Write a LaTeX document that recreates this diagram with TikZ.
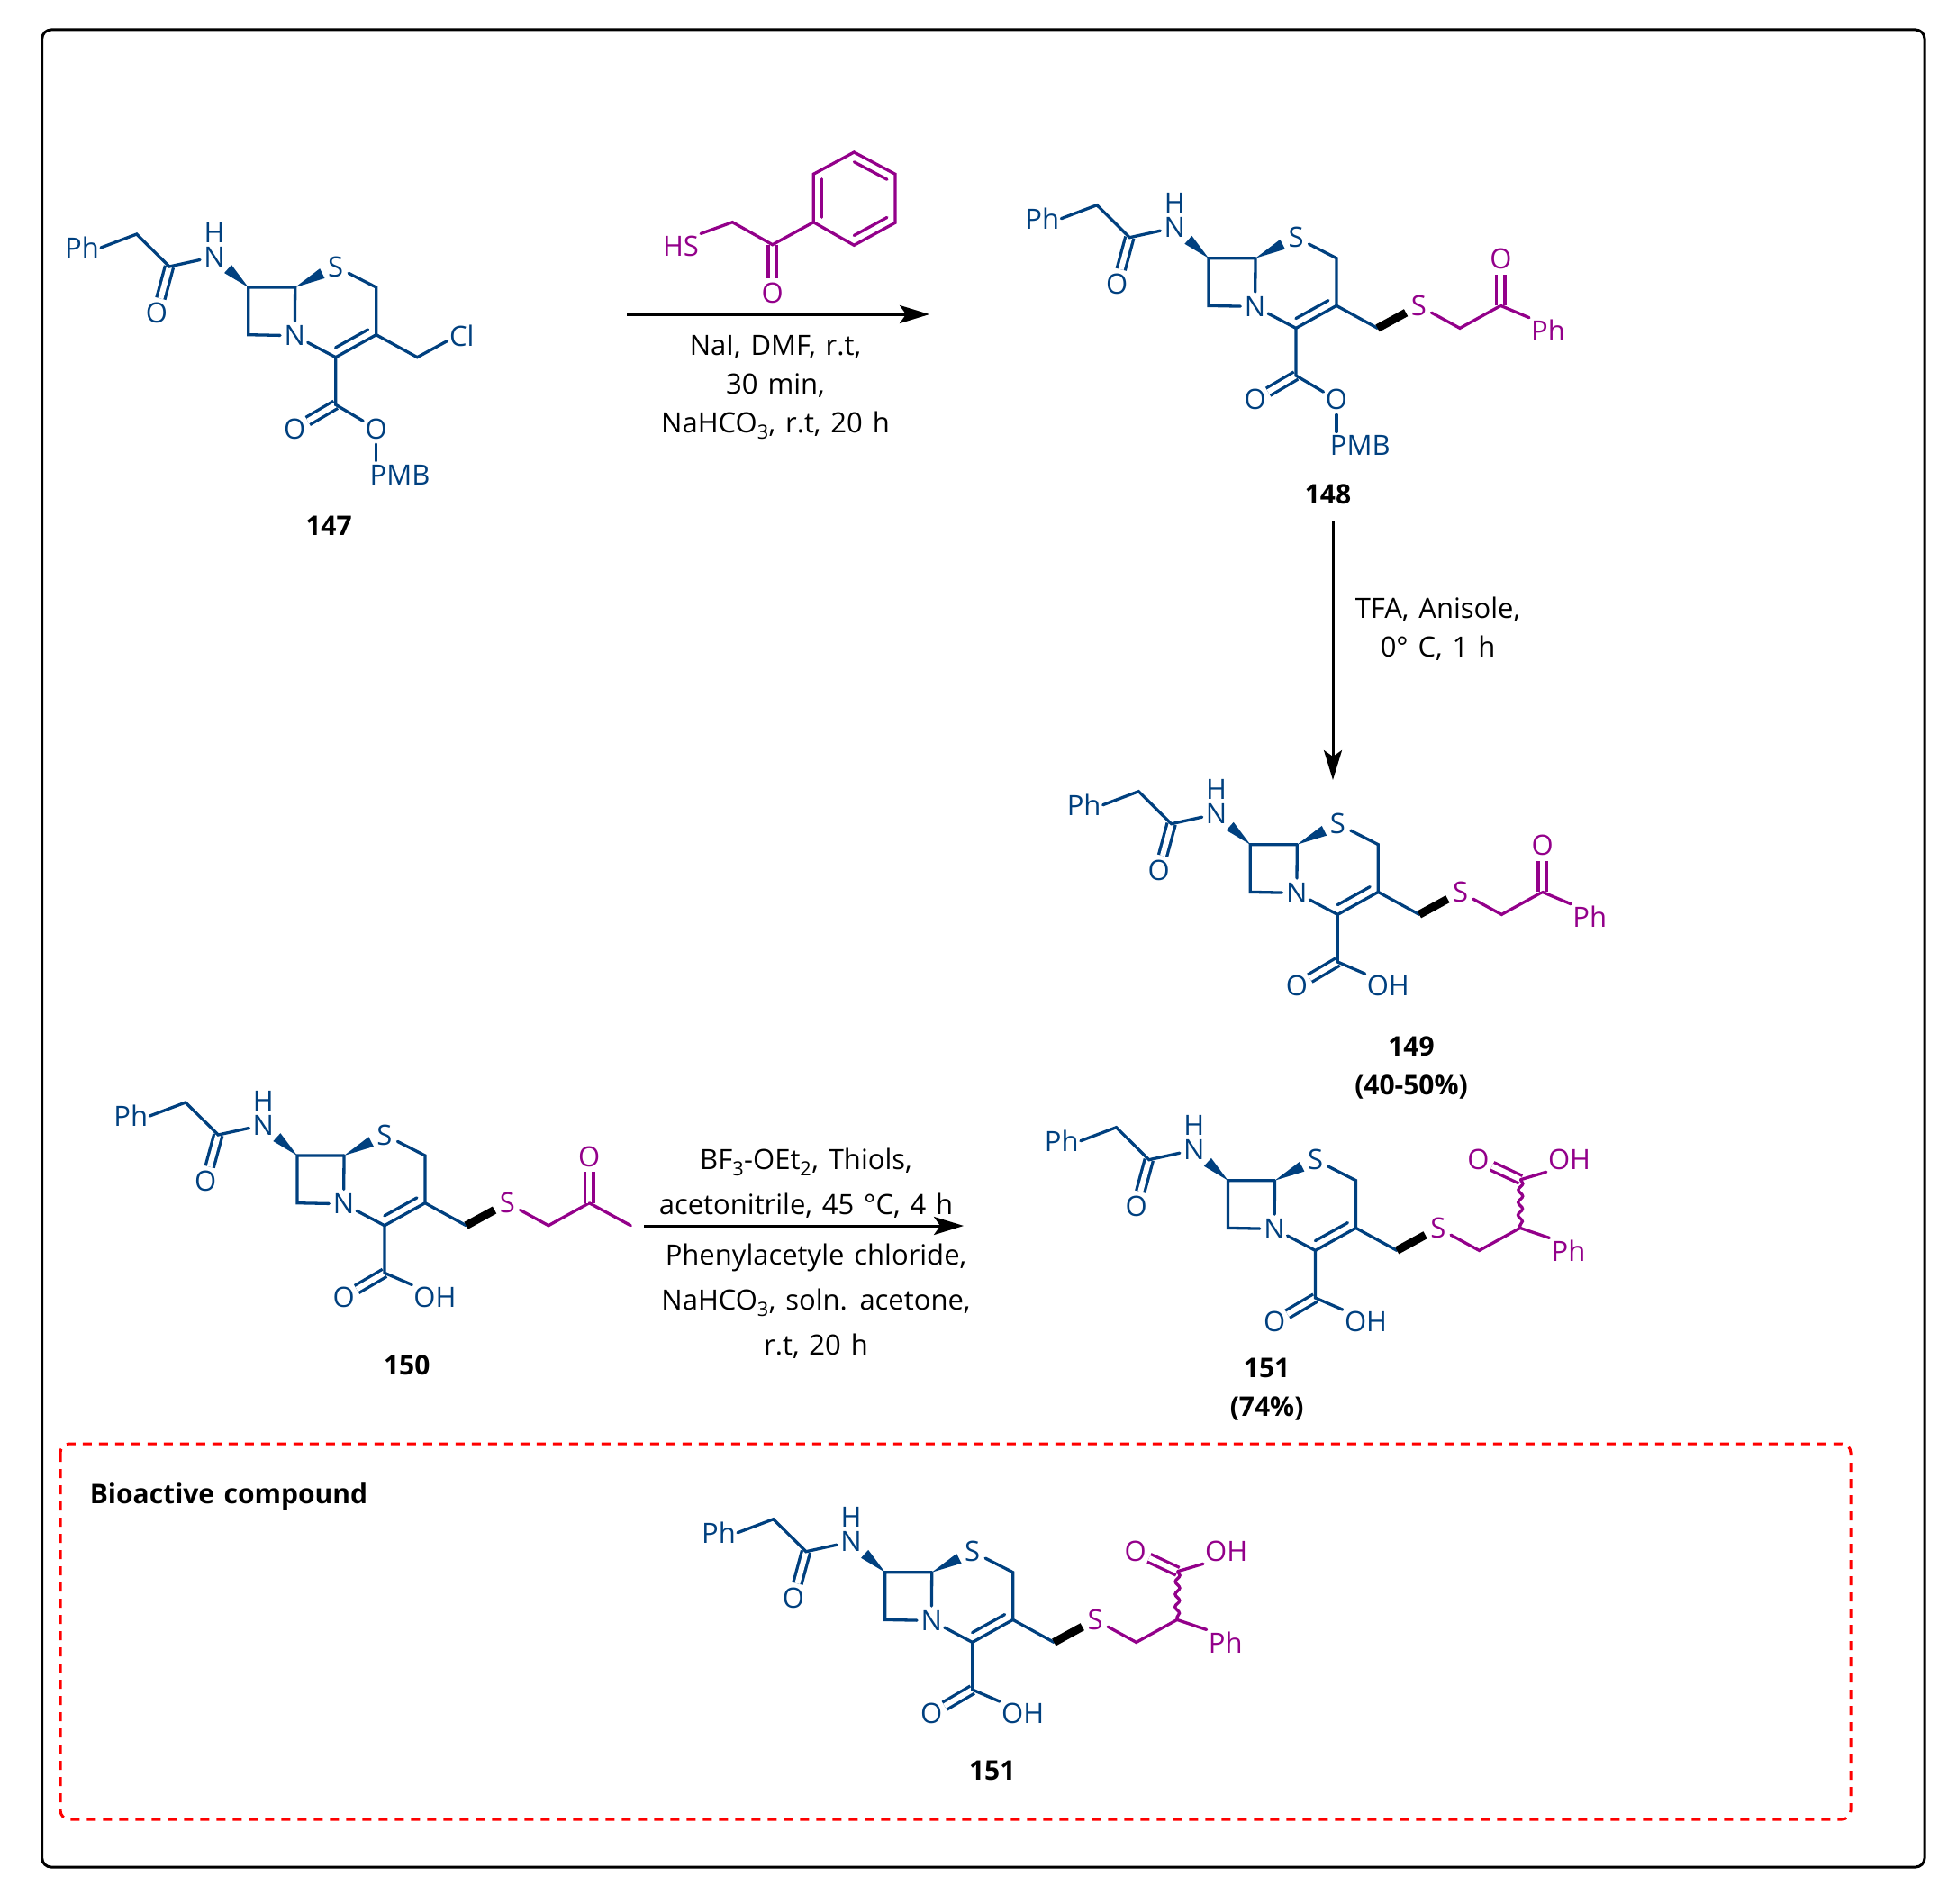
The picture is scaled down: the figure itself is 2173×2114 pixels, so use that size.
\documentclass[tikz,border=0pt]{standalone}
\usepackage{fontspec}
\setmainfont{Open Sans}[WordSpace=1.35]
\usetikzlibrary{calc,arrows.meta,decorations.pathmorphing}
\definecolor{coreblue}{HTML}{00407F}
\definecolor{armpurple}{HTML}{93008A}

% filled wedge from #1 towards #2, #3 = how far along
\newcommand{\wedgebond}[3]{\fill[coreblue] (#1) -- ($(#1)!#3!(#2)!6pt!90:(#2)$) -- ($(#1)!#3!(#2)!6pt!-90:(#2)$) -- cycle;}
% short inner line of a ring double bond, on the left of #1 -> #2
\newcommand{\innerbond}[3]{\draw[#3] ($(#1)!.1!(#2)!9.5pt!90:(#2)$) -- ($(#1)!.9!(#2)!9.5pt!90:(#2)$);}

% the bicyclic core, up to the ring carbon C2
\newcommand{\cephem}[1]{
	\node[grp] (#1Ph) at (91,275) {Ph};
	\coordinate (#1a) at (151.7,260);
	\coordinate (#1b) at (188,296);
	\node[atom] (#1O) at (174,347.7) {O};
	\node[atom] (#1NH) at (238,285) {N};
	\node[atom] (#1H) at (238,258) {H};
	\coordinate (#1c7) at (275.7,319);
	\coordinate (#1c6) at (327.7,319);
	\coordinate (#1c8) at (275.7,371.7);
	\node[atom] (#1S) at (372.7,296) {S};
	\coordinate (#1c4) at (417.7,319);
	\coordinate (#1c3) at (417.7,371.7);
	\coordinate (#1c2) at (372.7,396.7);
	\node[atom] (#1N) at (327.3,372.7) {N};
	\draw[dbl] (#1b) -- (#1O);
	\draw[bond] (#1Ph.east) -- (#1a) -- (#1b) -- (#1NH);
	\wedgebond{#1c7}{#1NH}{.6}
	\wedgebond{#1c6}{#1S}{.67}
	\draw[bond] (#1c6) -- (#1c7) -- (#1c8) -- (#1N);
	\draw[bond] (#1c6) -- (#1N);
	\draw[bond] (#1N) -- (#1c2) -- (#1c3) -- (#1c4) -- (#1S);
	\innerbond{#1c2}{#1c3}{bond}
}
\newcommand{\estertail}[1]{
	\coordinate (#1e) at (372.7,449.3);
	\node[atom] (#1eO) at (327.3,476) {O};
	\node[atom] (#1eP) at (417.7,476) {O};
	\node[grp] (#1PMB) at (444,527) {PMB};
	\draw[dbl] (#1e) -- (#1eO);
	\draw[bond] (#1c2) -- (#1e) -- (#1eP);
	\draw[bond,shorten >=2pt] (#1eP) -- (#1eP |- #1PMB.north);
}
\newcommand{\acidtail}[1]{
	\coordinate (#1e) at (372.7,449.3);
	\node[atom] (#1eO) at (327.3,476) {O};
	\node[grp] (#1OH) at (428.7,476) {OH};
	\draw[dbl] (#1e) -- (#1eO);
	\draw[bond] (#1c2) -- (#1e) -- (#1OH.north west);
}
% CH2-S-CH2 arm on C3
\newcommand{\thioarm}[1]{
	\coordinate (#1d) at (463.3,396.7);
	\node[atom,armpurple] (#1tS) at (509,371.7) {S};
	\coordinate (#1f) at (554.7,396.7);
	\coordinate (#1g) at (600,371.7);
	\draw[bond] (#1c3) -- (#1d);
	\draw[boldbond] (#1d) -- (#1tS);
	\draw[armbond] (#1tS) -- (#1f) -- (#1g);
}
\newcommand{\ketoarm}[1]{
	\node[atom,armpurple] (#1kO) at (600,320) {O};
	\node[grp,armpurple] (#1kPh) at (652.7,399) {Ph};
	\draw[armdbl] (#1g) -- (#1kO);
	\draw[armbond] (#1g) -- (#1kPh.north west);
}
\newcommand{\methylarm}[1]{
	\node[atom,armpurple] (#1kO) at (600,320) {O};
	\coordinate (#1me) at (646,396.7);
	\draw[armdbl] (#1g) -- (#1kO);
	\draw[armbond] (#1g) -- (#1me);
}
\newcommand{\wavyarm}[1]{
	\coordinate (#1w) at (600.7,318);
	\node[atom,armpurple] (#1wO) at (553.7,296) {O};
	\node[grp,armpurple] (#1wOH) at (654.7,296) {OH};
	\node[grp,armpurple] (#1wPh) at (653.7,396.7) {Ph};
	\draw[armdbl] (#1w) -- (#1wO);
	\draw[armbond] (#1w) -- (#1wOH.south west);
	\draw[armbond] (#1g) -- (#1wPh.north west);
	\draw[wavybond] (#1w) -- (#1g);
}

\begin{document}
\begin{tikzpicture}[x=1pt,y=-1pt]
	\tikzset{
		grp/.style={text=coreblue,inner sep=2pt,font=\fontsize{31}{36}\selectfont},
		atom/.style={circle,text=coreblue,inner sep=0pt,minimum size=32pt,font=\fontsize{31}{36}\selectfont},
		bond/.style={draw=coreblue,line width=3.3pt,line cap=round},
		dbl/.style={draw=coreblue,line width=3.3pt,double=white,double distance=6pt},
		armbond/.style={draw=armpurple,line width=3.3pt,line cap=round},
		armdbl/.style={draw=armpurple,line width=3.3pt,double=white,double distance=6pt},
		boldbond/.style={draw=black,line width=9pt},
		wavybond/.style={armbond,decorate,decoration={snake,amplitude=2.5pt,segment length=14pt}},
		rxn/.style={draw=black,line width=3pt,-{Stealth[length=33pt,width=20pt,inset=7pt]}},
		cond/.style={align=center,inner sep=0pt,text=black,font=\fontsize{31}{43}\selectfont},
		wide/.style={align=center,inner sep=0pt,text=black,font=\fontsize{31}{50}\selectfont},
		compound/.style={align=center,inner sep=0pt,text=black,font=\fontsize{30}{43}\selectfont\bfseries}
	}
	\useasboundingbox (0,0) rectangle (2173,2114);
	\draw[line width=3pt,rounded corners=10pt] (46.7,33) rectangle (2137,2073);
	\draw[line width=3pt,red,dash pattern=on 10pt off 8pt,rounded corners=10pt] (67,1603) rectangle (2055,2020);

	% 147
	\begin{scope}
		\cephem{p}
		\estertail{p}
		\node[grp] (pCl) at (512.7,372.7) {Cl};
		\coordinate (pd) at (463.3,396.7);
		\draw[bond] (pc3) -- (pd) -- (pCl.200);
	\end{scope}
	\node[compound] (n147) at (365,584) {147};

	% thiol reagent
	\node[grp,armpurple] (HS) at (756,273) {HS};
	\coordinate (ra) at (813.3,246.7);
	\coordinate (rb) at (857.7,271.7);
	\node[atom,armpurple] (rO) at (857.7,325.7) {O};
	\coordinate (r1) at (903.3,246.7);
	\coordinate (r2) at (903.3,193.3);
	\coordinate (r3) at (948.3,169);
	\coordinate (r4) at (994,193.3);
	\coordinate (r5) at (994,247.3);
	\coordinate (r6) at (948.3,272.3);
	\draw[armdbl] (rb) -- (rO);
	\draw[armbond] (HS.north east) -- (ra) -- (rb) -- (r1);
	\draw[armbond] (r1) -- (r2) -- (r3) -- (r4) -- (r5) -- (r6) -- (r1);
	\innerbond{r2}{r1}{armbond}
	\innerbond{r4}{r3}{armbond}
	\innerbond{r6}{r5}{armbond}

	\coordinate (s1) at (696,349);
	\coordinate (e1) at (1032,349);
	\path (s1) edge[rxn] (e1);
	\node[cond] (c1) at (861,430) {NaI, DMF, r.t,\\30 min,\\NaHCO\textsubscript{3}, r.t, 20 h};

	% 148
	\begin{scope}[shift={(1066.3,-32.3)}]
		\cephem{q}
		\estertail{q}
		\thioarm{q}
		\ketoarm{q}
	\end{scope}
	\node[compound] (n148) at (1474.5,549) {148};

	\coordinate (s2) at (1480,579);
	\coordinate (e2) at (1480,866);
	\path (s2) edge[rxn] (e2);
	\node[cond] (c2) at (1596.5,698.5) {TFA, Anisole,\\0° C, 1 h};

	% 149
	\begin{scope}[shift={(1112.6,618.7)}]
		\cephem{u}
		\acidtail{u}
		\thioarm{u}
		\ketoarm{u}
	\end{scope}
	\node[compound] (n149) at (1567,1185.5) {149\\(40-50\%)};

	% 150
	\begin{scope}[shift={(54.3,964)}]
		\cephem{v}
		\acidtail{v}
		\thioarm{v}
		\methylarm{v}
	\end{scope}
	\node[compound] (n150) at (451.8,1516) {150};

	\coordinate (s3) at (715,1361);
	\coordinate (e3) at (1070,1361);
	\path (s3) edge[rxn] (e3);
	\node[wide] (c3) at (895,1313.5) {BF\textsubscript{3}-OEt\textsubscript{2}, Thiols,\\acetonitrile, 45 °C, 4 h};
	\node[wide] (c4) at (906,1445) {Phenylacetyle chloride,\\NaHCO\textsubscript{3}, soln. acetone,\\r.t, 20 h};

	% 151
	\begin{scope}[shift={(1087.8,991.7)}]
		\cephem{w}
		\acidtail{w}
		\thioarm{w}
		\wavyarm{w}
	\end{scope}
	\node[compound] (n151) at (1406.6,1543) {151\\(74\%)};

	% boxed compound
	\node[compound] (bio) at (254,1662) {Bioactive compound};
	\begin{scope}[shift={(707,1426.7)}]
		\cephem{x}
		\acidtail{x}
		\thioarm{x}
		\wavyarm{x}
	\end{scope}
	\node[compound] (n151b) at (1101.7,1966) {151};
\end{tikzpicture}
\end{document}
